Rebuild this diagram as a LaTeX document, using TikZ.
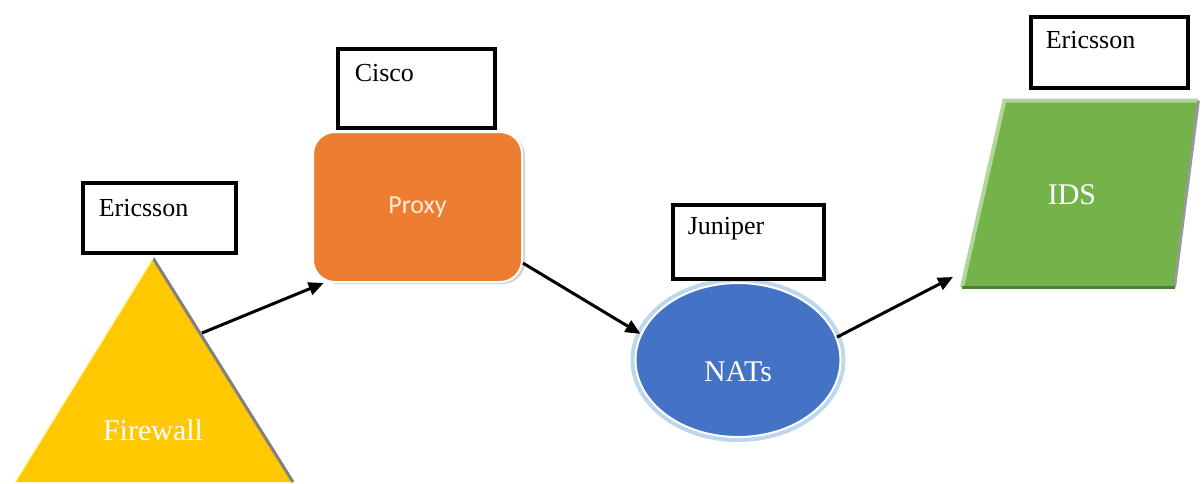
\documentclass[tikz,border=0pt]{standalone}
\usepackage{fontspec}
\setmainfont{Liberation Serif}
\newfontfamily\calibrifont{Carlito}
\usetikzlibrary{calc}
\usetikzlibrary{arrows.meta, shapes.geometric, shadows}

\definecolor{fwgold}{HTML}{FFC800}
\definecolor{proxyorange}{HTML}{ED7D31}
\definecolor{natblue}{HTML}{4472C4}
\definecolor{natglow}{HTML}{BDD7EE}
\definecolor{idsgreen}{HTML}{74B34A}

\begin{document}
\begin{tikzpicture}[x=1pt, y=-1pt,
  tag/.style={draw, line width=3.5pt, anchor=north west, inner ysep=0pt, align=left,
    font=\fontsize{26}{30}\selectfont},
  bigtext/.style={text=white, font=\fontsize{30}{34}\selectfont},
  flow/.style={-{Triangle[length=15pt, width=13pt]}, line width=3pt}]%
  \useasboundingbox (0,0) rectangle (1202,483);
  \fill[fwgold]
    (153,258)
    --
    (293,482)
    --
    (15,482)
    -- cycle;
  \draw[gray, line width=3pt] (153,258) -- (293,482);
  \draw[yellow!30!white, line width=1.5pt] (153,258) -- (15,482);
  \coordinate (fwedge) at (202,333);
  \node[bigtext] (firewall) at (153,430) {Firewall};
  \node[draw=white, line width=2pt, fill=proxyorange, rounded corners=22pt,
    minimum width=209pt, minimum height=150pt,
    drop shadow={shadow xshift=3pt, shadow yshift=-2pt, opacity=.35},
    text=orange!15!white, font=\calibrifont\fontsize{26}{30}\selectfont]
    (proxy) at (417.5,207) {Proxy};
  \node[ellipse, fill=natblue, draw=white, line width=2pt,
    preaction={draw=natglow, line width=10pt},
    minimum width=205pt, minimum height=154pt, inner sep=0pt, bigtext,
    text height=42pt, text depth=0pt]
    (nats) at (738,360) {NATs};
  \node[trapezium, trapezium left angle=76, trapezium right angle=98, trapezium stretches,
    fill=idsgreen, minimum height=186pt, minimum width=236pt, inner sep=4pt,
    anchor=bottom left corner]
    (ids) at (962,287) {};
  \draw[idsgreen!55!white, line width=4pt] (ids.bottom left corner) -- (ids.top left corner) -- (ids.top right corner);
  \draw[gray!80, line width=3pt] (ids.top right corner) -- (ids.bottom right corner);
  \draw[idsgreen!70!black, line width=3pt] (ids.bottom left corner) -- (ids.bottom right corner);
  \node[bigtext] (idstext) at (1072,195) {IDS};
  \foreach \tagname/\x/\y/\tagw/\tagx/\tagh/\tagd/\lbl in {
    ericssonA/81/181/121/16/34/36/Ericsson,
    cisco/336/47/123/17/33/46/Cisco,
    juniper/671/203/121/15/30/44/Juniper,
    ericssonB/1029/15/127/15/32/39/Ericsson} {
    \node[tag, text width=\tagw pt, inner xsep=\tagx pt, text height=\tagh pt, text depth=\tagd pt]
      (\tagname) at (\x,\y) {\lbl};
  }
  \draw[flow] (fwedge) -- (proxy.219);
  \draw[flow] (proxy.-28) -- (nats.165);
  \draw[flow] (nats.13) -- ($(ids.bottom left corner)+(-9,-10)$);
\end{tikzpicture}
\end{document}
